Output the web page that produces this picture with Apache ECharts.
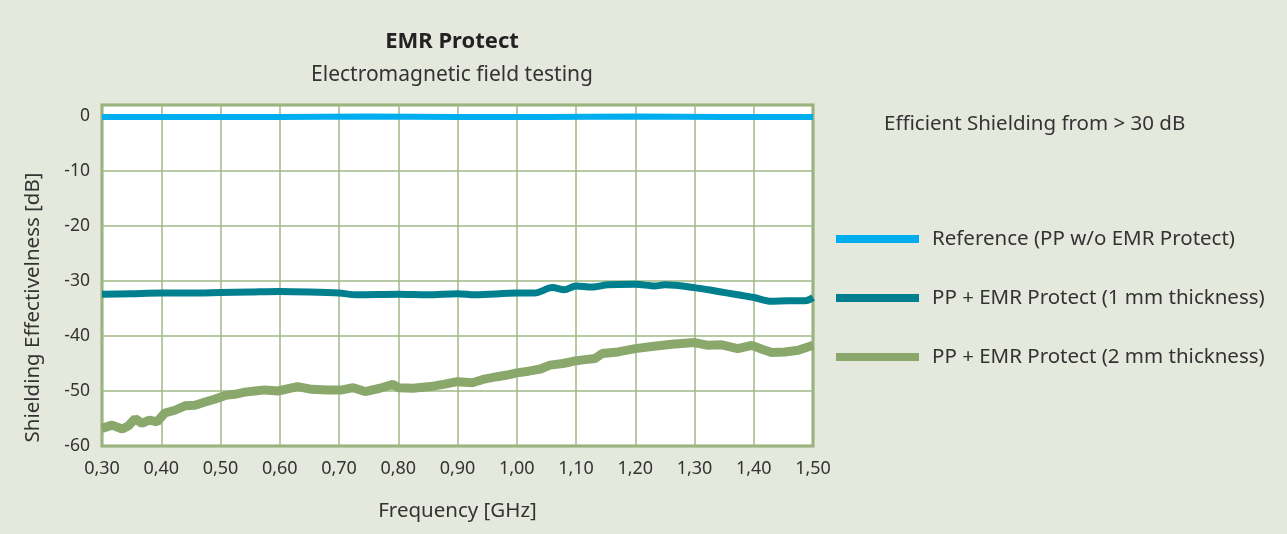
<!DOCTYPE html>
<html lang="en">
<head>
    <meta charset="UTF-8">
    <title>EMR Protect</title>
    <script src="https://cdn.jsdelivr.net/npm/echarts@6/dist/echarts.min.js"></script>
    <style>
        html, body { margin: 0; padding: 0; background: #e5e8dc; }
        #main { width: 1287px; height: 534px; }
    </style>
</head>
<body>
    <div id="main"></div>
    <script>
        // series names (legend)
        var seriesNames = [
            'Reference (PP w/o EMR Protect)',
            'PP + EMR Protect (1 mm thickness)',
            'PP + EMR Protect (2 mm thickness)'
        ];

        // reference, practically flat at 0 dB
        var refFreq = [0.30, 0.45, 0.60, 0.75, 0.90, 1.05, 1.20, 1.35, 1.50];
        var refDb   = [-0.2, -0.2, -0.2, -0.1, -0.2, -0.2, -0.1, -0.2, -0.2];

        // 1 mm
        var mm1Freq = [0.30, 0.35, 0.40, 0.45, 0.50, 0.55, 0.60, 0.65, 0.70, 0.73, 0.80, 0.85, 0.90,
                       0.93, 1.00, 1.03, 1.06, 1.08, 1.10, 1.127, 1.154, 1.20, 1.233, 1.25, 1.30,
                       1.34, 1.373, 1.40, 1.43, 1.458, 1.487, 1.50];
        var mm1Db   = [-32.4, -32.3, -32.2, -32.2, -32.1, -32.0, -31.9, -32.0, -32.2, -32.5, -32.4, -32.5, -32.3,
                       -32.5, -32.2, -32.2, -31.2, -31.6, -30.9, -31.1, -30.7, -30.6, -30.9, -30.7, -31.2,
                       -31.9, -32.5, -33.0, -33.7, -33.6, -33.6, -33.0];

        // 2 mm
        var mm2Freq = [0.30, 0.317, 0.334, 0.345, 0.356, 0.367, 0.38, 0.393, 0.406, 0.423, 0.44, 0.457,
                       0.474, 0.49, 0.508, 0.524, 0.541, 0.558, 0.575, 0.597, 0.63, 0.654, 0.681, 0.705,
                       0.724, 0.744, 0.769, 0.791, 0.80, 0.825, 0.854, 0.876, 0.90, 0.925, 0.943, 0.967,
                       0.984, 1.00, 1.02, 1.04, 1.056, 1.078, 1.095, 1.115, 1.132, 1.144, 1.171, 1.20,
                       1.228, 1.262, 1.30, 1.323, 1.346, 1.373, 1.397, 1.414, 1.43, 1.453, 1.475, 1.50];
        var mm2Db   = [-56.8, -56.2, -56.9, -56.3, -55.0, -55.9, -55.3, -55.6, -54.0, -53.5, -52.7, -52.6,
                       -52.0, -51.5, -50.8, -50.6, -50.2, -50.0, -49.8, -50.0, -49.2, -49.7, -49.8, -49.8,
                       -49.4, -50.1, -49.5, -48.8, -49.4, -49.5, -49.2, -48.8, -48.3, -48.5, -47.9, -47.4,
                       -47.1, -46.7, -46.4, -46.0, -45.3, -45.0, -44.6, -44.3, -44.1, -43.2, -42.9, -42.3,
                       -41.9, -41.5, -41.2, -41.7, -41.6, -42.3, -41.7, -42.4, -43.0, -42.9, -42.6, -41.7];

        var colors = ['#00aeef', '#00808f', '#8aa86b'];
        var txt = '#333333';
        var font = 'Noto Sans';

        function pairs(xs, ys) {
            return xs.map(function (x, i) { return [x, ys[i]]; });
        }

        var myChart = echarts.init(document.getElementById('main'));

        var option = {
            backgroundColor: '#e5e8dc',
            animation: false,
            textStyle: { fontFamily: font, color: txt },
            title: [
                {
                    text: 'EMR Protect', left: 447, top: 26, textAlign: 'center',
                    textStyle: { fontFamily: font, fontSize: 22, fontWeight: 'bold', color: '#222' }
                },
                {
                    text: 'Electromagnetic field testing', left: 447, top: 60, textAlign: 'center',
                    textStyle: { fontFamily: font, fontSize: 21, fontWeight: 'normal', color: txt }
                },
                {
                    text: 'Efficient Shielding from > 30 dB', left: 879, top: 109,
                    textStyle: { fontFamily: font, fontSize: 20.5, fontWeight: 'normal', color: txt }
                }
            ],
            legend: {
                orient: 'vertical',
                left: 831,
                top: 222,
                itemWidth: 83,
                itemHeight: 8,
                itemGap: 35,
                icon: 'rect',
                data: seriesNames,
                textStyle: { fontFamily: font, fontSize: 20.5, color: txt, lineHeight: 24, padding: [0, 0, 0, 8] }
            },
            grid: {
                left: 102, right: 474, top: 105, bottom: 88,
                show: true,
                backgroundColor: '#ffffff',
                borderColor: '#8ea870',
                borderWidth: 3
            },
            xAxis: {
                type: 'value',
                min: 0.30, max: 1.50, interval: 0.10,
                name: 'Frequency [GHz]',
                nameLocation: 'middle',
                nameGap: 55,
                nameTextStyle: { fontFamily: font, fontSize: 20.5, color: txt },
                axisLine: { show: false },
                axisTick: { show: false },
                axisLabel: {
                    margin: 14, fontSize: 18, color: txt, fontFamily: font,
                    formatter: function (v) { return v.toFixed(2).replace('.', ','); }
                },
                splitLine: { show: true, lineStyle: { color: '#9fb884', width: 1.5 } }
            },
            yAxis: {
                type: 'value',
                min: -60, max: 2, interval: 10,
                name: 'Shielding Effectivelness [dB]',
                nameLocation: 'middle',
                nameGap: 58,
                // name sits a bit below the middle of the plot
                nameTextStyle: { fontFamily: font, fontSize: 20.5, color: txt, padding: [0, 64, 0, 0] },
                axisLine: { show: false },
                axisTick: { show: false },
                axisLabel: {
                    margin: 12, fontSize: 17.5, color: txt, fontFamily: font,
                    padding: [0, 0, 8, 0],
                    formatter: function (v) { return v > 0 ? '' : String(v); }
                },
                splitLine: { show: true, lineStyle: { color: '#9fb884', width: 1.5 } }
            },
            series: [
                {
                    name: seriesNames[0], type: 'line', data: pairs(refFreq, refDb),
                    showSymbol: false, color: colors[0],
                    lineStyle: { width: 6, color: colors[0] }
                },
                {
                    name: seriesNames[1], type: 'line', data: pairs(mm1Freq, mm1Db),
                    showSymbol: false, smooth: 0.3, color: colors[1],
                    lineStyle: { width: 7, color: colors[1] }
                },
                {
                    name: seriesNames[2], type: 'line', data: pairs(mm2Freq, mm2Db),
                    showSymbol: false, color: colors[2],
                    lineStyle: { width: 9, color: colors[2] }
                }
            ]
        };

        myChart.setOption(option);
    </script>
</body>
</html>
